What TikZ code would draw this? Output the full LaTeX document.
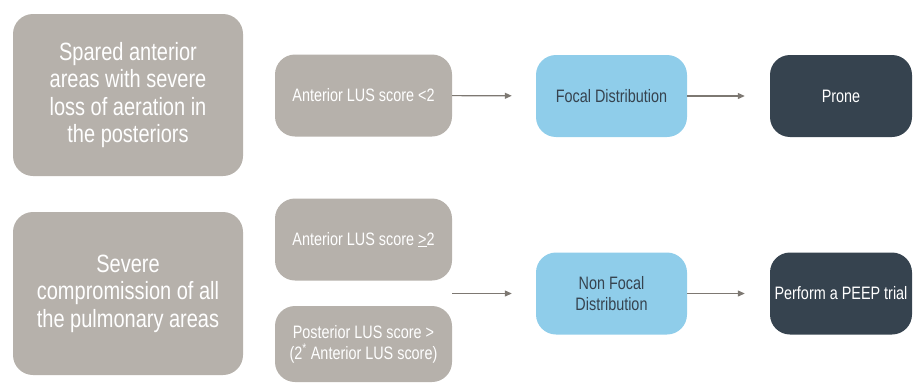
\documentclass[tikz,border=0pt]{standalone}
\usepackage{fontspec}
\setmainfont{Liberation Sans}[FakeStretch=0.8]
\usetikzlibrary{arrows.meta}
\definecolor{boxgrey}{HTML}{B6B1AB}
\definecolor{boxblue}{HTML}{8FCDEA}
\definecolor{boxdark}{HTML}{36434F}
\definecolor{arrowgrey}{HTML}{7D7872}
\tikzset{
  base/.style={rounded corners=20pt, inner sep=2pt, align=center},
  bigbox/.style={base, fill=boxgrey, text=white, minimum width=230pt, minimum height=162pt,
    font=\fontsize{25}{27.5}\selectfont},
  condbox/.style={base, fill=boxgrey, text=white, minimum width=177pt, minimum height=82pt,
    font=\fontsize{18}{21}\selectfont},
  distbox/.style={base, fill=boxblue, text=boxdark, minimum width=151pt, minimum height=82pt,
    font=\fontsize{18}{21}\selectfont},
  actbox/.style={base, fill=boxdark, text=white, minimum width=142pt, minimum height=82pt,
    font=\fontsize{18}{21}\selectfont},
  conn/.style={draw=arrowgrey, line width=1.1pt, -{Triangle[length=7pt,width=6pt]}}
}
\begin{document}
\begin{tikzpicture}[x=1pt,y=-1pt]
\useasboundingbox (0,0) rectangle (913,383);
\node[bigbox] (A) at (128,95) {Spared anterior\\areas with severe\\loss of aeration in\\the posteriors};
\node[condbox] (B) at (363.5,95.5) {Anterior LUS score <2};
\node[distbox] (F) at (611.5,96) {Focal Distribution};
\node[actbox] (P) at (841,96) {Prone};
\node[bigbox, minimum height=163pt] (C) at (128,293.5) {Severe\\compromission of all\\the pulmonary areas};
\node[condbox] (D) at (363.5,239.5) {Anterior LUS score \underline{>}2};
\node[condbox, minimum height=76pt] (E) at (363.5,344) {Posterior LUS score >\\(2\textsuperscript{*} Anterior LUS score)};
\node[distbox] (N) at (611.5,293.5) {Non Focal\\Distribution};
\node[actbox] (T) at (841,293.5) {Perform a PEEP trial};
\coordinate (split) at (452,293.5);
\draw[conn, shorten >=24pt] (B) -- (F);
\draw[conn, shorten >=25pt] (F) -- (P);
\draw[conn, shorten >=24pt] (split) -- (N);
\draw[conn, shorten >=25pt] (N) -- (T);
\end{tikzpicture}
\end{document}
